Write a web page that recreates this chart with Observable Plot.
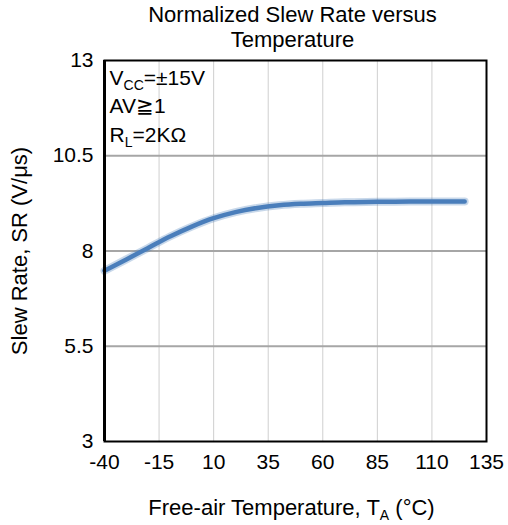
<!DOCTYPE html>
<html>
<head>
<meta charset="utf-8">
<script src="https://cdn.jsdelivr.net/npm/d3@7"></script>
<script src="https://cdn.jsdelivr.net/npm/@observablehq/plot@0.6"></script>
<style>
  html, body { margin: 0; padding: 0; background: #fff; }
</style>
</head>
<body>
<div id="chart"></div>
<script>
// ---- data ----
const temperature = [-40, -30, -20, -10, 0, 10, 20, 30, 40, 50, 60, 70, 85, 100, 115, 125];
const slewRate    = [7.48, 7.78, 8.08, 8.38, 8.64, 8.86, 9.02, 9.13, 9.20, 9.24, 9.26, 9.28, 9.29, 9.30, 9.30, 9.30];
const xTicks = [-40, -15, 10, 35, 60, 85, 110, 135];
const yTicks = [3, 5.5, 8, 10.5, 13];
const titleText = "Normalized Slew Rate versus\nTemperature";
const xLabel = "Free-air Temperature, T_{A} (°C)";
const yLabel = "Slew Rate, SR (V/μs)";
const conditions = ["V_{CC}=±15V", "AV≧1", "R_{L}=2KΩ"];

const data = temperature.map((t, i) => ({t, sr: slewRate[i]}));
const FONT = "'Liberation Sans', Arial, Helvetica, sans-serif";

const marks = [
  Plot.ruleX(xTicks.slice(1, -1), {stroke: "#cfcfcf", strokeWidth: 1}),
  Plot.ruleY(yTicks.slice(1, -1), {stroke: "#a6a6a6", strokeWidth: 2}),
  Plot.line(data, {x: "t", y: "sr", stroke: "#4a7ebb", strokeWidth: 8, strokeOpacity: 0.3, curve: "monotone-x"}),
  Plot.line(data, {x: "t", y: "sr", stroke: "#4a7ebb", strokeWidth: 4.5, curve: "monotone-x", strokeLinecap: "round"}),
  Plot.frame({stroke: "#000", strokeWidth: 2}),
  Plot.ruleX([xTicks[0]], {stroke: "#000", strokeWidth: 3}),
  Plot.axisX({ticks: xTicks, tickSize: 0, tickPadding: 13, tickFormat: d => String(d), label: null, fontSize: 21}),
  Plot.axisY({ticks: yTicks, tickSize: 0, tickPadding: 11, tickFormat: d => String(d), label: null, fontSize: 21}),
  Plot.text([titleText], {frameAnchor: "top", text: d => d, dy: -14, dx: -3, lineAnchor: "bottom", lineHeight: 1.1, fontSize: 22, fill: "#000"}),
  Plot.text([xLabel], {frameAnchor: "bottom", text: d => d, dy: 73, dx: -4, lineAnchor: "bottom", textAnchor: "middle", fontSize: 22, fill: "#000"}),
  Plot.text([yLabel], {frameAnchor: "left", text: d => d, dx: -85, rotate: -90, lineAnchor: "middle", textAnchor: "middle", fontSize: 22, fill: "#000"}),
  ...conditions.map((c, i) => Plot.text([c], {frameAnchor: "top-left", text: d => d, dx: 5, dy: 24 + i * 28.5, lineAnchor: "bottom", textAnchor: "start", fontSize: 21, fill: "#000"}))
];

const chart = Plot.plot({
  width: 508,
  height: 525,
  marginLeft: 104,
  marginRight: 22,
  marginTop: 60,
  marginBottom: 84,
  style: {fontFamily: FONT, fontSize: "21px", background: "#fff", color: "#000"},
  x: {domain: [-40, 135]},
  y: {domain: [3, 13]},
  marks
});

// Render "_{...}" as subscripts
d3.select(chart).selectAll("text").each(function () {
  const el = d3.select(this);
  if (el.selectAll("tspan").size() > 0) return;
  const str = el.text();
  if (!str.includes("_{")) return;
  const parts = str.split(/(_\{[^}]*\})/).filter(s => s.length);
  el.text(null);
  let wasSub = false;
  for (const p of parts) {
    const m = p.match(/^_\{(.*)\}$/);
    const ts = el.append("tspan");
    if (m) {
      ts.text(m[1]).attr("font-size", "14px").attr("dy", 5);
      wasSub = true;
    } else {
      ts.text(p);
      if (wasSub) ts.attr("dy", -5);
      wasSub = false;
    }
  }
});

document.getElementById("chart").appendChild(chart);
</script>
</body>
</html>
